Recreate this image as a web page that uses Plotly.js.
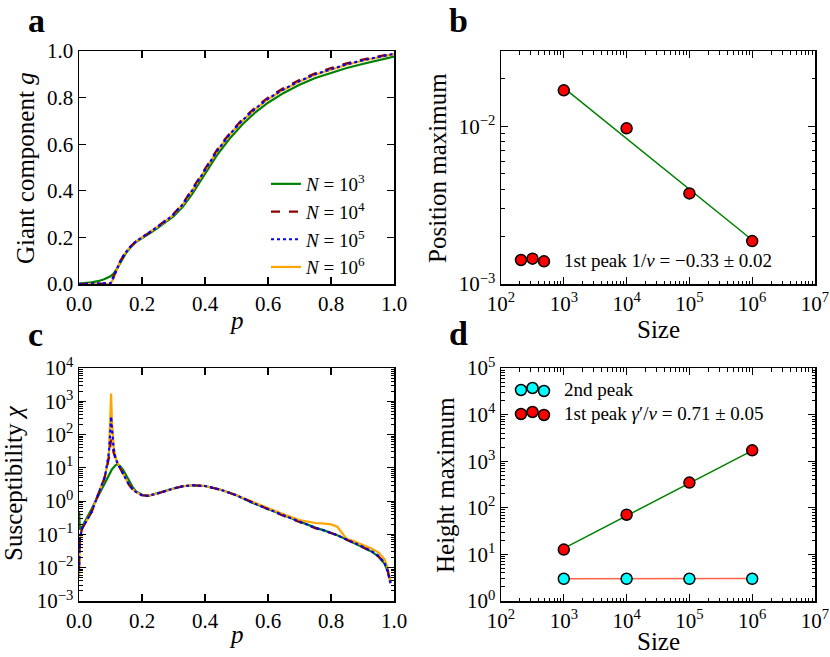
<!DOCTYPE html>
<html>
<head>
<meta charset="utf-8">
<script src="https://cdn.plot.ly/plotly-3.0.1.min.js"></script>
<style>html,body{margin:0;padding:0;background:#fff;}#chart{width:830px;height:657px;}</style>
</head>
<body>
<div id="chart"></div>
<script>
// ---------- Panel a: giant component ----------
const pA = [0, 0.02, 0.04, 0.06, 0.08, 0.1, 0.11, 0.12, 0.13, 0.14, 0.15, 0.16, 0.18, 0.2, 0.22, 0.25, 0.28, 0.3, 0.33, 0.36, 0.4, 0.44, 0.48, 0.52, 0.56, 0.6, 0.65, 0.7, 0.75, 0.8, 0.85, 0.9, 0.95, 1.0];
const gN3 = [0.002, 0.004, 0.007, 0.012, 0.02, 0.033, 0.045, 0.065, 0.09, 0.114, 0.134, 0.151, 0.179, 0.197, 0.213, 0.241, 0.27, 0.29, 0.332, 0.388, 0.473, 0.557, 0.627, 0.687, 0.737, 0.778, 0.82, 0.855, 0.884, 0.907, 0.927, 0.944, 0.96, 0.976];
const gN4 = [0, 0, 0.001, 0.002, 0.003, 0.005, 0.032, 0.064, 0.095, 0.12, 0.14, 0.156, 0.182, 0.2, 0.217, 0.247, 0.277, 0.3, 0.346, 0.408, 0.494, 0.58, 0.65, 0.709, 0.758, 0.8, 0.841, 0.876, 0.904, 0.927, 0.947, 0.963, 0.978, 0.99];
const gN5 = [0, 0, 0, 0, 0.001, 0.003, 0.03, 0.063, 0.095, 0.12, 0.14, 0.156, 0.182, 0.2, 0.216, 0.246, 0.276, 0.298, 0.343, 0.403, 0.489, 0.574, 0.645, 0.704, 0.753, 0.795, 0.836, 0.871, 0.9, 0.923, 0.943, 0.96, 0.975, 0.988];
const gN6 = [0, 0, 0, 0, 0, 0, 0.025, 0.062, 0.095, 0.12, 0.14, 0.156, 0.182, 0.2, 0.216, 0.246, 0.275, 0.297, 0.342, 0.402, 0.488, 0.573, 0.643, 0.702, 0.751, 0.793, 0.834, 0.869, 0.898, 0.921, 0.941, 0.958, 0.973, 0.987];

// ---------- Panel c: susceptibility ----------
const pC = [0, 0.003, 0.01, 0.02, 0.03, 0.04, 0.05, 0.06, 0.07, 0.08,
  0.085, 0.09, 0.095, 0.098, 0.1, 0.102, 0.104, 0.107, 0.11, 0.115,
  0.12, 0.13, 0.14, 0.15, 0.16, 0.17, 0.18, 0.2, 0.22, 0.25,
  0.28, 0.3, 0.33, 0.36, 0.4, 0.45, 0.5, 0.55, 0.6, 0.65,
  0.7, 0.75, 0.78, 0.8, 0.82, 0.85, 0.87, 0.9, 0.93, 0.95,
  0.97, 0.98, 0.99];
const chiN3 = [0.5, 0.14, 0.17, 0.25, 0.38, 0.58, 0.9, 1.4, 2.2, 3.4,
  4.2, 5.2, 6.3, 7.0, 7.6, 8.2, 8.8, 9.6, 10.5, 11.8,
  12.7, 11.5, 8.7, 5.8, 3.8, 2.7, 2.0, 1.55, 1.45, 1.7,
  2.1, 2.4, 2.8, 3.0, 2.85, 2.2, 1.5, 0.9, 0.58, 0.37,
  0.24, 0.16, 0.13, 0.112, 0.095, 0.07, 0.057, 0.042, 0.03, 0.022,
  0.013, 0.008, 0.0035];
const chiN4 = [0.01, 0.09, 0.15, 0.22, 0.32, 0.47, 0.85, 1.45, 2.5, 4.6,
  7, 11, 20, 35, 55, 71, 55, 38, 28, 20,
  15, 10, 6.8, 4.5, 3.0, 2.3, 1.9, 1.5, 1.45, 1.7,
  2.1, 2.4, 2.8, 3.0, 2.85, 2.2, 1.5, 0.9, 0.57, 0.36,
  0.235, 0.155, 0.128, 0.11, 0.094, 0.069, 0.057, 0.042, 0.03, 0.022,
  0.014, 0.008, 0.003];
const chiN5 = [0.008, 0.08, 0.15, 0.22, 0.32, 0.47, 0.85, 1.45, 2.5, 4.8,
  7.5, 13, 28, 80, 200, 347, 180, 70, 38, 22,
  15.5, 10, 6.8, 4.5, 3.0, 2.3, 1.9, 1.5, 1.45, 1.7,
  2.1, 2.4, 2.8, 3.0, 2.85, 2.2, 1.5, 0.9, 0.58, 0.37,
  0.24, 0.158, 0.13, 0.111, 0.095, 0.07, 0.058, 0.043, 0.031, 0.023,
  0.014, 0.008, 0.003];
const chiN6 = [0.005, 0.07, 0.15, 0.22, 0.32, 0.47, 0.85, 1.45, 2.5, 4.8,
  7.5, 13, 30, 120, 700, 1714, 350, 90, 42, 23,
  16, 10, 6.8, 4.5, 3.0, 2.3, 1.9, 1.5, 1.45, 1.7,
  2.1, 2.4, 2.8, 3.0, 2.85, 2.2, 1.5, 0.95, 0.62, 0.4,
  0.27, 0.22, 0.21, 0.2, 0.17, 0.072, 0.064, 0.05, 0.037, 0.029,
  0.018, 0.01, 0.0035];

// ---------- Panels b, d: scaling ----------
const sizes = [1e3, 1e4, 1e5, 1e6];
const posMax = [0.0169, 0.0097, 0.00375, 0.00187];
const fitPosX = [1e3, 1e6];
const fitPosY = [0.0175, 0.0019];
const heightPeak1 = [12.7, 71, 347, 1714];
const heightPeak2 = [3.0, 3.0, 3.0, 3.0];
const fitH1X = [1e3, 1e6];
const fitH1Y = [13.5, 1690];
const fitH2X = [1e3, 1e6];
const fitH2Y = [3.0, 3.05];

const seriesLabels = ['<i>N</i> = 10<sup>3</sup>', '<i>N</i> = 10<sup>4</sup>', '<i>N</i> = 10<sup>5</sup>', '<i>N</i> = 10<sup>6</sup>'];
const seriesColors = ['#008000', '#8B0000', '#0000FF', '#FFA500'];
const seriesDash = ['solid', 'dash', 'dot', 'solid'];

const W = 830, H = 657;
const FONT = 'Liberation Serif, Times New Roman, serif';

function px(x) { return x / W; }
function py(y) { return 1 - y / H; }

const traces = [];
// draw order: green, orange, dashed red, dotted blue
const drawOrder = [0, 3, 1, 2];
const gData = [gN3, gN4, gN5, gN6];
const cData = [chiN3, chiN4, chiN5, chiN6];
drawOrder.forEach(i => {
  traces.push({x: pA, y: gData[i], xaxis: 'x', yaxis: 'y', type: 'scatter', mode: 'lines',
    name: seriesLabels[i], legendrank: i + 1, legendgroup: 'g' + i,
    line: {color: seriesColors[i], width: 2.2, dash: seriesDash[i]}});
});
drawOrder.forEach(i => {
  traces.push({x: pC, y: cData[i], xaxis: 'x3', yaxis: 'y3', type: 'scatter', mode: 'lines',
    showlegend: false, line: {color: seriesColors[i], width: 2.2, dash: seriesDash[i]}});
});
// panel b
traces.push({x: fitPosX, y: fitPosY, xaxis: 'x2', yaxis: 'y2', mode: 'lines', showlegend: false,
  line: {color: '#008000', width: 1.5}});
traces.push({x: sizes, y: posMax, xaxis: 'x2', yaxis: 'y2', mode: 'markers', showlegend: false,
  marker: {size: 11, color: '#FF0000', line: {color: 'black', width: 1.5}}});
// panel d
traces.push({x: fitH1X, y: fitH1Y, xaxis: 'x4', yaxis: 'y4', mode: 'lines', showlegend: false,
  line: {color: '#008000', width: 1.5}});
traces.push({x: fitH2X, y: fitH2Y, xaxis: 'x4', yaxis: 'y4', mode: 'lines', showlegend: false,
  line: {color: '#FF6347', width: 1.5}});
traces.push({x: sizes, y: heightPeak2, xaxis: 'x4', yaxis: 'y4', mode: 'markers', showlegend: false,
  marker: {size: 11, color: '#00FFFF', line: {color: 'black', width: 1.5}}});
traces.push({x: sizes, y: heightPeak1, xaxis: 'x4', yaxis: 'y4', mode: 'markers', showlegend: false,
  marker: {size: 11, color: '#FF0000', line: {color: 'black', width: 1.5}}});

const base = {showline: true, linecolor: 'black', linewidth: 1.5, mirror: 'allticks',
  ticks: 'inside', ticklen: 7, tickwidth: 1.2, tickcolor: 'black', showgrid: false, zeroline: false,
  tickfont: {family: FONT, size: 21, color: 'black'}};

function linAxis(dom, anchor) {
  return Object.assign({}, base, {domain: dom, anchor: anchor, range: [0, 1], tickmode: 'array',
    tickvals: [0, 0.2, 0.4, 0.6, 0.8, 1.0], ticktext: ['0.0', '0.2', '0.4', '0.6', '0.8', '1.0']});
}
function supLabel(e) { return '10<sup>' + (e < 0 ? '\u2212' + (-e) : e) + '</sup>'; }
function logAxis(dom, anchor, lo, hi, rangeHi) {
  const tv = [], tt = [], mv = [];
  for (let e = lo; e <= Math.ceil(hi); e++) {
    tv.push(Math.pow(10, e)); tt.push(supLabel(e));
    for (let k = 2; k <= 9; k++) mv.push(k * Math.pow(10, e));
  }
  return Object.assign({}, base, {domain: dom, anchor: anchor, type: 'log', range: [lo, rangeHi === undefined ? hi : rangeHi],
    tickmode: 'array', tickvals: tv, ticktext: tt,
    minor: {ticks: 'inside', ticklen: 3.5, tickwidth: 1, tickcolor: 'black', showgrid: false, tickmode: 'array', tickvals: mv}});
}

const domXL = [px(79), px(394)], domXR = [px(501), px(815)];
const domYT = [py(284), py(51)], domYB = [py(601), py(368)];

const layout = {
  width: W, height: H, margin: {l: 0, r: 0, t: 0, b: 0},
  paper_bgcolor: 'white', plot_bgcolor: 'white',
  font: {family: FONT, color: 'black'},
  xaxis: linAxis(domXL, 'y'),
  yaxis: linAxis(domYT, 'x'),
  xaxis2: logAxis(domXR, 'y2', 2, 7),
  yaxis2: logAxis(domYT, 'x2', -3, -1.523, -1.523),
  xaxis3: linAxis(domXL, 'y3'),
  yaxis3: logAxis(domYB, 'x3', -3, 4),
  xaxis4: logAxis(domXR, 'y4', 2, 7),
  yaxis4: logAxis(domYB, 'x4', 0, 5),
  showlegend: true,
  legend: {x: px(266), y: py(165), xanchor: 'left', yanchor: 'top', bgcolor: 'rgba(0,0,0,0)',
    borderwidth: 0, font: {family: FONT, size: 19, color: 'black'}, tracegroupgap: 5, itemwidth: 30,
    traceorder: 'normal'},
  annotations: [],
  shapes: []
};
// only the -3 and -2 decades are inside the range of panel b's y axis
layout.yaxis2.tickvals = [0.001, 0.01];
layout.yaxis2.ticktext = [supLabel(-3), supLabel(-2)];
layout.yaxis2.minor.tickvals = [2e-3, 3e-3, 4e-3, 5e-3, 6e-3, 7e-3, 8e-3, 9e-3, 2e-2, 3e-2];

function ann(text, x, y, opts) {
  layout.annotations.push(Object.assign({text: text, x: px(x), y: py(y), xref: 'paper', yref: 'paper',
    showarrow: false, xanchor: 'center', yanchor: 'middle',
    font: {family: FONT, size: 25, color: 'black'}}, opts || {}));
}
// panel letters
const letterFont = {family: FONT, size: 34, color: 'black'};
ann('<b>a</b>', 36, 20, {font: letterFont});
ann('<b>b</b>', 458, 20, {font: letterFont});
ann('<b>c</b>', 35, 334, {font: letterFont});
ann('<b>d</b>', 458, 333, {font: letterFont});
// axis titles
ann('<i>p</i>', 236.5, 320);
ann('<i>p</i>', 236.5, 634);
ann('Size', 658, 329);
ann('Size', 658, 657, {yanchor: 'bottom'});
ann('Giant component <i>g</i>', 25, 168, {textangle: -90});
ann('Position maximum', 437, 168, {textangle: -90});
ann('Susceptibility <i>\u03c7</i>', 13, 483, {textangle: -90});
ann('Height maximum', 445, 485, {textangle: -90});
// manual legends for b and d (three scatter points per entry)
const legFont = {family: FONT, size: 19, color: 'black'};
ann('1st peak 1/<i>\u03bd</i> = \u22120.33 \u00b1 0.02', 562, 260, {xanchor: 'left', font: legFont});
ann('2nd peak', 562, 389, {xanchor: 'left', font: legFont});
ann('1st peak <i>\u03b3</i>\u2032/<i>\u03bd</i> = 0.71 \u00b1 0.05', 562, 413, {xanchor: 'left', font: legFont});
function circ(x, y, color) {
  layout.shapes.push({type: 'circle', xref: 'paper', yref: 'paper', xsizemode: 'pixel', ysizemode: 'pixel',
    xanchor: px(x), yanchor: py(y), x0: -5.5, x1: 5.5, y0: -5.5, y1: 5.5,
    fillcolor: color, line: {color: 'black', width: 1.5}});
}
circ(521, 260, '#FF0000'); circ(532.5, 258.7, '#FF0000'); circ(544, 261.3, '#FF0000');
circ(521, 390, '#00FFFF'); circ(532.5, 388, '#00FFFF'); circ(544, 391, '#00FFFF');
circ(521, 414, '#FF0000'); circ(532.5, 412, '#FF0000'); circ(544, 415, '#FF0000');

Plotly.newPlot('chart', traces, layout, {staticPlot: true, displayModeBar: false});
</script>
</body>
</html>
